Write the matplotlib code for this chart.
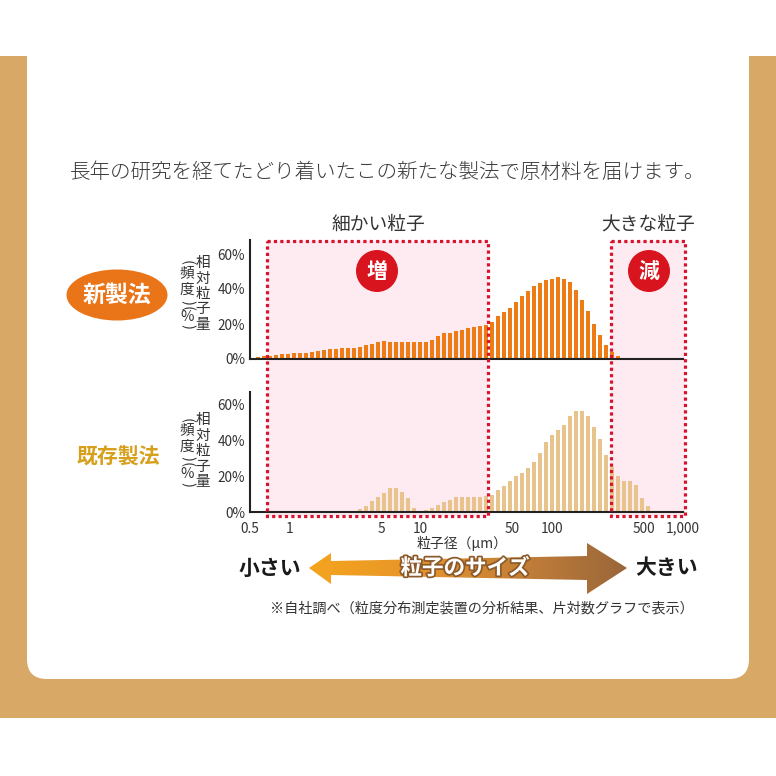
import numpy as np
import matplotlib
matplotlib.use('Agg')
import matplotlib.pyplot as plt
from matplotlib.patches import Rectangle, Circle, Ellipse, FancyBboxPatch, Polygon
from matplotlib.transforms import blended_transform_factory
from matplotlib.colors import LinearSegmentedColormap
from matplotlib.ticker import NullLocator
import matplotlib.patheffects as pe

plt.rcParams['font.family'] = ['Noto Sans CJK JP', 'DejaVu Sans']

# --- data ---------------------------------------------------------------
# particle size channels (µm), log-spaced like a laser diffraction analyser
size_um = np.geomspace(0.575, 600, 67)

# relative amount (%) per channel
new_method = [1.1, 1.5, 1.9, 2.3, 2.7, 3.0, 3.2, 3.2, 3.6, 4.2,
              4.8, 5.1, 5.9, 5.9, 6.1, 6.5, 6.5, 7.0, 8.0, 8.8,
              9.7, 10.3, 9.5, 9.5, 9.5, 9.5, 9.5, 9.5, 9.5, 11.0,
              13.3, 15.0, 15.0, 16.2, 16.8, 17.7, 18.1, 18.7, 19.4, 21.3,
              24.4, 27.0, 29.3, 32.8, 36.2, 39.0, 41.9, 43.4, 45.0, 45.9,
              47.0, 45.9, 44.0, 39.4, 33.5, 27.6, 19.8, 13.7, 7.8, 3.8,
              1.5, 0, 0, 0, 0, 0, 0]
old_method = [0, 0, 0, 0, 0, 0, 0, 0, 0, 0,
              0, 0, 0, 0, 0, 0, 0, 1.6, 3.5, 6.1,
              8.6, 10.7, 13.3, 13.3, 11.2, 7.6, 2.4, 0.8, 1.2, 2.3,
              4.1, 5.5, 6.9, 8.5, 8.5, 8.5, 8.5, 8.5, 8.7, 9.7,
              12.4, 14.7, 17.4, 19.9, 21.4, 24.4, 28.0, 33.0, 38.9, 43.0,
              45.4, 48.6, 53.6, 56.4, 55.9, 53.2, 47.1, 40.8, 31.9, 24.8,
              20.1, 17.4, 17.4, 14.8, 7.8, 3.4, 0.8]

x_ticks = [0.5, 1, 5, 10, 50, 100, 500, 1000]
x_tick_labels = ['0.5', '1', '5', '10', '50', '100', '500', '1,000']
y_ticks = [0, 20, 40, 60]
y_tick_labels = ['0%', '20%', '40%', '60%']

fine_range = (0.67, 32.7)     # 細かい粒子
coarse_range = (285, 1036)    # 大きな粒子

title = '長年の研究を経てたどり着いたこの新たな製法で原材料を届けます。'
note = '※自社調べ（粒度分布測定装置の分析結果、片対数グラフで表示）'

# --- figure ---------------------------------------------------------------
W = H = 776
fig = plt.figure(figsize=(W / 100, H / 100), dpi=100)
fig.patch.set_facecolor('white')

# background layer in pixel coords
bg = fig.add_axes([0, 0, 1, 1], zorder=-10)
bg.set_xlim(0, W)
bg.set_ylim(H, 0)
bg.axis('off')
bg.add_patch(Rectangle((0, 56), W, 662, color='#d8a866', lw=0))
bg.add_patch(FancyBboxPatch((27, -60), 722, 739,
                            boxstyle='round,pad=0,rounding_size=20',
                            fc='white', ec='none'))

# foreground layer in pixel coords
ov = fig.add_axes([0, 0, 1, 1], zorder=10)
ov.set_xlim(0, W)
ov.set_ylim(H, 0)
ov.axis('off')
ov.patch.set_visible(False)

# chart axes
half_w = 2.2 / 131.2  # bar half width in decades
left = size_um * 10 ** (-half_w)
width = size_um * (10 ** half_w - 10 ** (-half_w))

ax_new = fig.add_axes([250 / W, 1 - 359 / H, 433 / W, 119 / H], zorder=0)
ax_old = fig.add_axes([250 / W, 1 - 512 / H, 433 / W, 120 / H], zorder=0)

for ax, vals, col, ytop in [(ax_new, new_method, '#ee7c14', 68),
                            (ax_old, old_method, '#e9c38c', 66.7)]:
    ax.set_xscale('log')
    ax.bar(left, vals, width=width, align='edge', color=col, lw=0)
    ax.set_xlim(0.5, 1000)
    ax.set_ylim(0, ytop)
    ax.patch.set_visible(False)
    for s in ['top', 'right']:
        ax.spines[s].set_visible(False)
    for s in ['left', 'bottom']:
        ax.spines[s].set_linewidth(1.5)
        ax.spines[s].set_color('#222222')
    ax.set_yticks(y_ticks)
    ax.set_yticklabels(y_tick_labels)
    ax.set_xticks(x_ticks)
    ax.xaxis.set_minor_locator(NullLocator())
    ax.tick_params(length=0, labelsize=9.8, colors='#333333')
    ax.tick_params(axis='y', pad=3.5)
    ax.tick_params(axis='x', pad=7)

ax_new.set_xticklabels([])
ax_old.set_xticklabels(x_tick_labels)

# highlighted size ranges (x from data, y in pixels)
tr_bg = blended_transform_factory(ax_new.transData, bg.transData)
tr_ov = blended_transform_factory(ax_new.transData, ov.transData)
for lo, hi in [fine_range, coarse_range]:
    bg.add_patch(Rectangle((lo, 241), hi - lo, 275, transform=tr_bg,
                           fc='#fdebf1', ec='none', clip_on=False))
    ov.add_patch(Rectangle((lo, 241), hi - lo, 275, transform=tr_ov,
                           fill=False, ec='#d7132d', lw=2.3,
                           linestyle=(0, (1, 1)), clip_on=False))

# texts and badges
ov.text(388, 172, title, ha='center', va='center', fontsize=14.8,
        color='#3a3a3a', fontweight='light')
ov.text(378, 224, '細かい粒子', ha='center', va='center', fontsize=13.5, color='#333333')
ov.text(648, 224, '大きな粒子', ha='center', va='center', fontsize=13.5, color='#333333')

for cx, ch in [(377, '増'), (649, '減')]:
    ov.add_patch(Circle((cx, 271), 21, color='#d8141f', lw=0))
    ov.text(cx, 271, ch, ha='center', va='center', fontsize=15,
            color='white', fontweight='bold')

ov.add_patch(Ellipse((117, 295), 101, 51, color='#ea7418', lw=0))
ov.text(117, 295, '新製法', ha='center', va='center', fontsize=16.5,
        color='white', fontweight='bold')
ov.text(118, 457, '既存製法', ha='center', va='center', fontsize=15,
        color='#d6a01c', fontweight='bold')

# vertical y labels
def vlabel(y0):
    for i, ch in enumerate('相対粒子量'):
        ov.text(203, y0 + 15.5 * i, ch, ha='center', va='center',
                fontsize=10.5, color='#333333')
    left_col = [('(', 0), ('頻', 10), ('度', 27), (')', 39), ('(', 45), ('%', 54), (')', 64)]
    for ch, dy in left_col:
        rot = -90 if ch in '()' else 0
        ov.text(187, y0 + dy, ch, ha='center', va='center', fontsize=10.5,
                color='#333333', rotation=rot)

vlabel(263)
vlabel(420)

ov.text(462, 543, '粒子径（μm）', ha='center', va='center', fontsize=10, color='#333333')

# gradient double arrow
arrow_pts = [(309, 568), (331, 553), (331, 561), (587, 556), (587, 543),
             (627, 568), (587, 594), (587, 580), (331, 575), (331, 584)]
arrow = Polygon(arrow_pts, closed=True, fc='none', ec='none')
ov.add_patch(arrow)
cmap = LinearSegmentedColormap.from_list(
    'arr', ['#f5a41e', '#e7962a', '#c47f38', '#99663a'])
grad = np.linspace(0, 1, 256).reshape(1, -1)
im = ov.imshow(grad, cmap=cmap, extent=(309, 627, 594, 543), aspect='auto',
               interpolation='bilinear')
im.set_clip_path(arrow)
ov.set_xlim(0, W)
ov.set_ylim(H, 0)

ov.text(465, 568, '粒子のサイズ', ha='center', va='center', fontsize=15.5,
        color='white', fontweight='bold',
        path_effects=[pe.withStroke(linewidth=2.5, foreground='#8c5a2a')])
ov.text(270, 568, '小さい', ha='center', va='center', fontsize=15,
        color='#1a1a1a', fontweight='bold')
ov.text(667, 568, '大きい', ha='center', va='center', fontsize=15,
        color='#1a1a1a', fontweight='bold')

ov.text(482, 608, note, ha='center', va='center', fontsize=10.2, color='#333333')

fig.savefig('out.png', dpi=100)
